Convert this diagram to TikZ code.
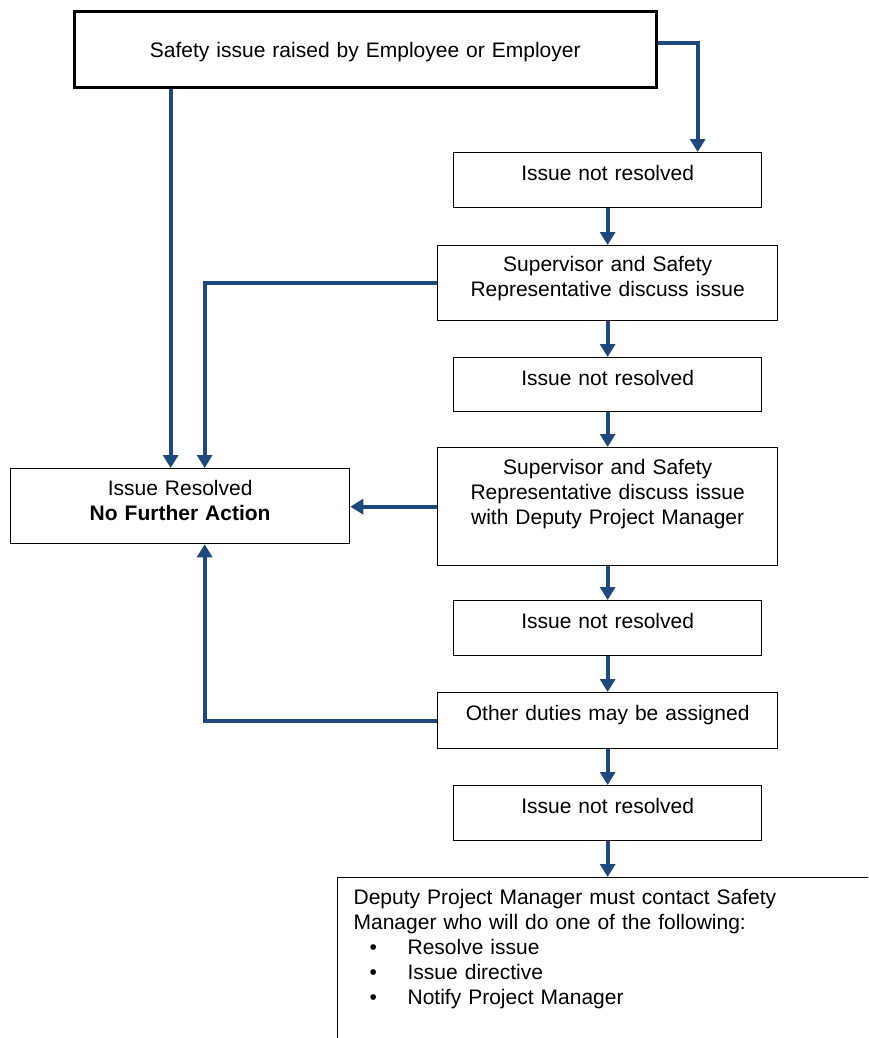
\documentclass[tikz,border=0pt]{standalone}
\usepackage{fontspec}
\setmainfont{Liberation Sans}
\usetikzlibrary{arrows.meta,positioning}
\definecolor{flowblue}{RGB}{31,73,125}

\begin{document}
\begin{tikzpicture}[x=1pt,y=-1pt,
    box/.style={draw, line width=1.3pt, inner sep=0pt, anchor=north west, align=center,
      font=\fontsize{21}{25}\selectfont},
    notres/.style={box, text width=308pt, text height=28pt, text depth=27pt},
    wide/.style={box, text width=340pt},
    link/.style={-{Triangle[width=15pt,length=13pt]}, line width=4pt, flowblue}]
\path[use as bounding box, clip] (0,0) rectangle (868,1038);

\node[box, line width=2.6pt, text width=582pt, text height=46pt, text depth=30pt] (raised) at (73,10)
  {Safety issue raised by Employee or Employer};
\node[notres] (nr1) at (453,152) {Issue not resolved};
\node[wide, text height=26pt, text depth=49pt] (sup1) at (437,245)
  {Supervisor and Safety\\Representative discuss issue};
\node[notres, text depth=26pt] (nr2) at (453,357) {Issue not resolved};
\node[wide, text height=27pt, text depth=91pt] (sup2) at (437,447)
  {Supervisor and Safety\\Representative discuss issue\\with Deputy Project Manager};
\node[notres] (nr3) at (453,600) {Issue not resolved};
\node[wide, text height=28pt, text depth=28pt] (other) at (437,692) {Other duties may be assigned};
\node[notres] (nr4) at (453,785) {Issue not resolved};
\node[box, text width=339pt, text height=27pt, text depth=48pt] (resolved) at (10,468)
  {Issue Resolved\\\textbf{No Further Action}};
\node[box, align=left, inner xsep=16pt, text width=568pt, text height=27pt, text depth=173pt] (contact) at (337,877)
  {Deputy Project Manager must contact Safety\\
   Manager who will do one of the following:\\
   \hspace*{16pt}\makebox[38pt][l]{\textbullet}Resolve issue\\
   \hspace*{16pt}\makebox[38pt][l]{\textbullet}Issue directive\\
   \hspace*{16pt}\makebox[38pt][l]{\textbullet}Notify Project Manager};

\coordinate (lefttap) at ([xshift=-9.5pt]resolved.north);
\coordinate (righttap) at ([xshift=24.5pt]resolved.north);

% escalation chain
\path[link] (nr1) edge (sup1)
            (sup1) edge (nr2)
            (nr2) edge (sup2)
            (sup2) edge (nr3)
            (nr3) edge (other)
            (other) edge (nr4);
\draw[link] (nr4.south) -- (nr4.south |- contact.north);
\draw[link] ([yshift=6pt]raised.east) -| ([xshift=90pt]nr1.north);

% back to resolved
\draw[link] (raised.south -| lefttap) -- (lefttap);
\draw[link] (sup1.west) -| (righttap);
\draw[link] (sup2.west) -- (sup2.west -| resolved.east);
\draw[link] (other.west) -| (resolved.south -| righttap);
\end{tikzpicture}
\end{document}
